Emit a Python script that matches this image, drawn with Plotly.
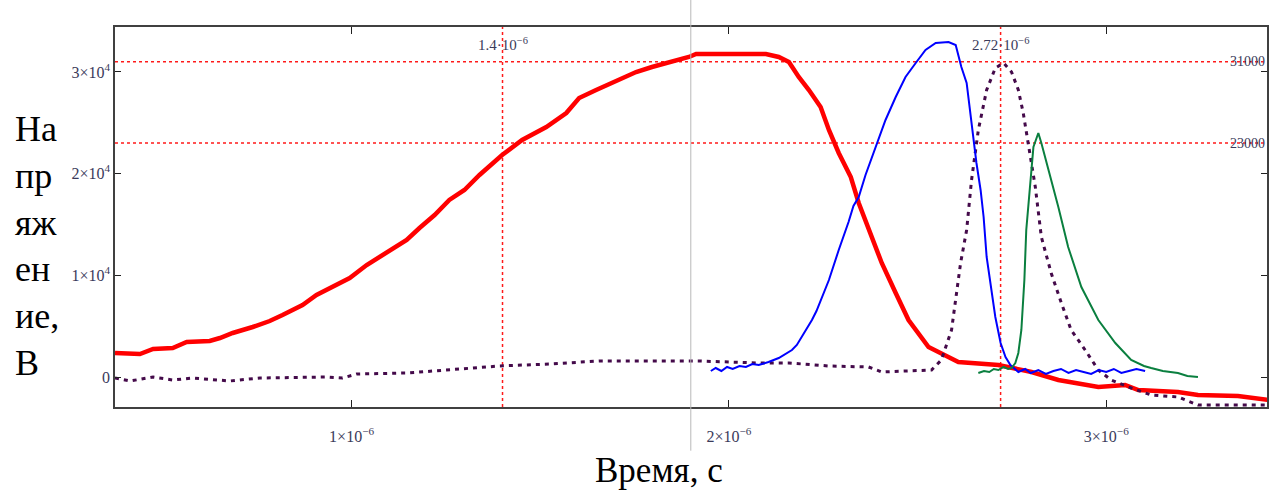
import plotly.graph_objects as go

US = 1e-6

# ---- data (time in microseconds, voltage in volts) ----
red_t = [0.373, 0.413, 0.439, 0.474, 0.526, 0.563, 0.624, 0.651, 0.685, 0.738, 0.783, 0.817,
         0.870, 0.907, 0.960, 0.995, 1.040, 1.082, 1.119, 1.146, 1.180, 1.220, 1.259, 1.299,
         1.339, 1.399, 1.452, 1.516, 1.569, 1.603, 1.648, 1.690, 1.754, 1.796, 1.849, 1.894,
         1.913, 2.098, 2.132, 2.159, 2.185, 2.212, 2.243, 2.265, 2.291, 2.323, 2.344, 2.370,
         2.405, 2.442, 2.476, 2.529, 2.574, 2.608, 2.714, 2.802, 2.873, 2.979, 3.050, 3.085,
         3.190, 3.243, 3.349, 3.429]
red_v = [2360, 2360, 2262, 2753, 2852, 3442, 3540, 3835, 4327, 4917, 5506, 6096,
         7080, 8063, 9046, 9735, 11013, 11996, 12783, 13471, 14651, 15929, 17404, 18388,
         19863, 21830, 23304, 24583, 25959, 27435, 28221, 28909, 29991, 30482, 30974, 31466,
         31761, 31761, 31466, 30974, 29499, 28221, 26549, 24288, 22026, 19666, 17109, 14455,
         11210, 8260, 5605, 2950, 2163, 1475, 1180, 492, -295, -983, -787, -1278,
         -1475, -1770, -1868, -2262]

purple_t = [0.373, 0.413, 0.474, 0.526, 0.579, 0.677, 0.757, 0.934, 0.976, 1.013, 1.146, 1.259,
            1.392, 1.524, 1.656, 1.921, 2.079, 2.159, 2.265, 2.370, 2.405, 2.537, 2.563, 2.590,
            2.614, 2.630, 2.643, 2.661, 2.683, 2.706, 2.728, 2.749, 2.767, 2.780, 2.794, 2.812,
            2.828, 2.854, 2.881, 2.907, 2.944, 2.979, 3.013, 3.066, 3.119, 3.190, 3.243, 3.429]
purple_v = [-98, -393, 0, -295, -98, -393, -98, 0, -98, 295, 393, 688,
            1082, 1278, 1573, 1573, 1377, 1377, 1082, 983, 492, 688, 1672, 4621,
            11210, 14455, 19371, 24288, 28221, 30384, 30876, 29991, 28221, 25959, 22616, 18683,
            13766, 10226, 7276, 4621, 2655, 688, -295, -1082, -1770, -1967, -2753, -2753]

blue_t = [1.952, 1.965, 1.980, 1.995, 2.010, 2.028, 2.045, 2.062, 2.079, 2.105, 2.132, 2.150,
          2.167, 2.180, 2.193, 2.207, 2.220, 2.232, 2.243, 2.265, 2.291, 2.305,
          2.317, 2.330, 2.344, 2.362, 2.384, 2.397, 2.415, 2.442, 2.468, 2.495, 2.521, 2.548, 2.582,
          2.601, 2.616, 2.630, 2.640, 2.648, 2.656, 2.667, 2.675, 2.683, 2.693, 2.706, 2.720,
          2.733, 2.746, 2.767, 2.785, 2.800, 2.820, 2.840, 2.860, 2.880, 2.900, 2.920, 2.940,
          2.960, 2.980, 3.000, 3.020, 3.040, 3.060, 3.080, 3.103]
blue_v = [590, 885, 590, 984, 787, 1082, 983, 1278, 1180, 1475, 1868, 2262,
          2655, 3147, 3933, 4720, 5605, 6490, 7571, 9538, 12488, 13865,
          15241, 16815, 17699, 19863, 22026, 23501, 25271, 27532, 29499, 30876, 32154, 32842, 32941,
          32646, 30482, 28909, 25959, 23304, 21043, 18388, 15733, 11800, 9243, 5900, 3343,
          1967, 1180, 492, 787, 393, 688, 295, 590, 787, 393, 688, 492,
          295, 688, 492, 787, 393, 590, 787, 590]

green_t = [2.661, 2.676, 2.690, 2.702, 2.714, 2.728, 2.740, 2.749, 2.759, 2.767, 2.775, 2.783,
           2.788, 2.799, 2.807, 2.820, 2.828, 2.847, 2.873, 2.899, 2.934, 2.979, 3.024, 3.066,
           3.100, 3.119, 3.150, 3.190, 3.215, 3.243]
green_v = [393, 590, 492, 787, 688, 984, 787, 885, 1377, 2360, 4621, 9538,
           14455, 19371, 22616, 23993, 23010, 20354, 16716, 12783, 8850, 5605, 3343, 1672,
           1082, 885, 590, 393, 98, 0]

x_ticks = [1, 2, 3]
x_tick_text = ["1×10<sup>−6</sup>", "2×10<sup>−6</sup>", "3×10<sup>−6</sup>"]
y_ticks = [0, 10000, 20000, 30000]
y_tick_text = ["0", "1×10<sup>4</sup>", "2×10<sup>4</sup>", "3×10<sup>4</sup>"]

marker_times = [1.4, 2.72]
marker_labels = ["1.4·10<sup>−6</sup>", "2.72·10<sup>−6</sup>"]
marker_levels = [31000, 23000]
level_labels = ["31000", "23000"]
cursor_time = 1.899

x_range = [0.373, 3.426]
y_range = [-2950, 34415]

SERIF = "Liberation Serif, Times New Roman, serif"
TICK_COLOR = "#3a3a5a"

def sec(lst):
    return [v * US for v in lst]

fig = go.Figure()
fig.add_trace(go.Scatter(x=sec(red_t), y=red_v, mode="lines",
                         line=dict(color="#ff0000", width=4.5)))
fig.add_trace(go.Scatter(x=sec(purple_t), y=purple_v, mode="lines",
                         line=dict(color="#440a4a", width=3, dash="4px,5px")))
fig.add_trace(go.Scatter(x=sec(blue_t), y=blue_v, mode="lines",
                         line=dict(color="#0000ff", width=2)))
fig.add_trace(go.Scatter(x=sec(green_t), y=green_v, mode="lines",
                         line=dict(color="#0a7f3f", width=2)))

shapes = []
for t in marker_times:
    shapes.append(dict(type="line", xref="x", yref="paper", x0=t * US, x1=t * US, y0=0, y1=1,
                       line=dict(color="#ff1a1a", width=1.5, dash="3px,3px"), layer="below"))
for lv in marker_levels:
    shapes.append(dict(type="line", xref="paper", yref="y", x0=0, x1=1, y0=lv, y1=lv,
                       line=dict(color="#ff1a1a", width=1.5, dash="3px,3px"), layer="below"))
shapes.append(dict(type="line", xref="x", yref="paper", x0=cursor_time * US, x1=cursor_time * US,
                   y0=-0.115, y1=1.071, line=dict(color="#b8b8b8", width=1)))

annotations = []
for t, lab in zip(marker_times, marker_labels):
    annotations.append(dict(x=t * US, y=0.955, xref="x", yref="paper", text=lab, showarrow=False,
                            xanchor="center", yanchor="middle",
                            font=dict(family=SERIF, size=15, color=TICK_COLOR)))
for lv, lab in zip(marker_levels, level_labels):
    annotations.append(dict(x=1, y=lv, xref="paper", yref="y", text=lab, showarrow=False,
                            xanchor="right", yanchor="middle",
                            font=dict(family=SERIF, size=14, color=TICK_COLOR)))
annotations.append(dict(x=0.472, y=-0.166, xref="paper", yref="paper", text="Время, с",
                        showarrow=False, xanchor="center", yanchor="middle",
                        font=dict(family=SERIF, size=35, color="black")))
annotations.append(dict(x=-0.0884, y=0.424, xref="paper", yref="paper",
                        text="На<br>пр<br>яж<br>ен<br>ие,<br>В", align="left",
                        showarrow=False, xanchor="left", yanchor="middle",
                        font=dict(family=SERIF, size=36, color="black")))

fig.update_layout(
    width=1272, height=493,
    margin=dict(l=115, r=3, t=27, b=86),
    paper_bgcolor="white", plot_bgcolor="white",
    showlegend=False,
    shapes=shapes, annotations=annotations,
    xaxis=dict(range=[x_range[0] * US, x_range[1] * US], tickvals=sec(x_ticks), ticktext=x_tick_text,
               showgrid=False, zeroline=False, showline=True, mirror="ticks",
               linecolor="#404040", linewidth=1.5, ticks="inside", ticklen=7, tickcolor="#202020",
               tickfont=dict(family=SERIF, size=16, color=TICK_COLOR), ticklabelstandoff=14),
    yaxis=dict(range=y_range, tickvals=y_ticks, ticktext=y_tick_text,
               showgrid=False, zeroline=False, showline=True, mirror="ticks",
               linecolor="#404040", linewidth=1.5, ticks="inside", ticklen=6, tickcolor="#202020",
               tickfont=dict(family=SERIF, size=16, color=TICK_COLOR), ticklabelstandoff=0),
)

fig.write_html("out.html", config={"displayModeBar": False},
               post_script="document.body.style.margin='0';document.body.style.overflow='hidden';")
